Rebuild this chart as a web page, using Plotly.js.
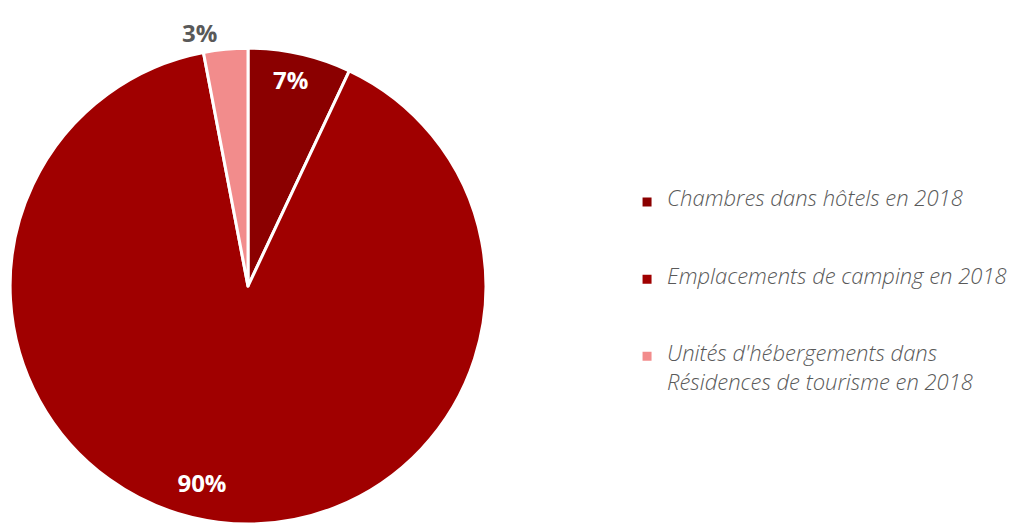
<!DOCTYPE html>
<html><head><meta charset="utf-8">
<script src="https://cdn.plot.ly/plotly-3.0.1.min.js"></script>
<style>html,body{margin:0;padding:0;background:#fff}</style>
</head><body>
<div id="chart" style="width:1013px;height:524px"></div>
<script>
const categories = [
  "Chambres dans hôtels en 2018",
  "Emplacements de camping en 2018",
  "Unités d'hébergements dans<br>Résidences de tourisme en 2018"
];
const values = [7, 90, 3];
const sliceColors = ["#8B0000", "#A00000", "#F28C8C"];
const labelPositions = ["inside", "inside", "outside"];
const labelColors = ["#FFFFFF", "#FFFFFF", "#595959"];
// per-slice label templates (non-breaking padding only nudges where the text sits)
const NB = "&nbsp;";
const labelTemplates = [
  "%{percent:.0%}<br> ",
  (NB + "<br>").repeat(5) + "%{percent:.0%}" + NB.repeat(10),
  "%{percent:.0%}"
];

const SPAN = t => '<span style="font-size:22px">' + t + '</span>';
const legendLabels = categories.map(c => {
  const parts = c.split("<br>");
  if (parts.length === 1) return SPAN(parts[0]) + ("<br>" + NB).repeat(4);
  return SPAN(parts[0]) + "<br>" + NB + "<br>" + SPAN(parts[1]) + "<br>" + NB;
});

const trace = {
  type: "pie",
  labels: legendLabels,
  values: values,
  sort: false,
  direction: "clockwise",
  rotation: 0,
  marker: {colors: sliceColors, line: {color: "#FFFFFF", width: 3}},
  texttemplate: labelTemplates,
  textposition: labelPositions,
  insidetextorientation: "horizontal",
  textfont: {family: "'Open Sans', sans-serif", size: 24, weight: 700, color: labelColors},
  insidetextfont: {family: "'Open Sans', sans-serif", size: 24, weight: 700, color: "#FFFFFF"},
  outsidetextfont: {family: "'Open Sans', sans-serif", size: 24, weight: 700, color: "#595959"},
  hoverinfo: "none",
  domain: {x: [0.00987, 0.4798], y: [0, 0.908]},
  showlegend: true
};

const layout = {
  width: 1013, height: 524,
  margin: {l: 0, r: 0, t: 0, b: 0},
  paper_bgcolor: "#FFFFFF",
  showlegend: true,
  legend: {
    x: 0.619, xanchor: "left", y: 0.641, yanchor: "top",
    valign: "top",
    font: {family: "'Open Sans', sans-serif", size: 11.4, style: "italic", weight: 300, color: "#595959"},
    traceorder: "normal"
  }
};

Plotly.newPlot("chart", [trace], layout, {displayModeBar: false, staticPlot: true});
</script>
</body></html>
